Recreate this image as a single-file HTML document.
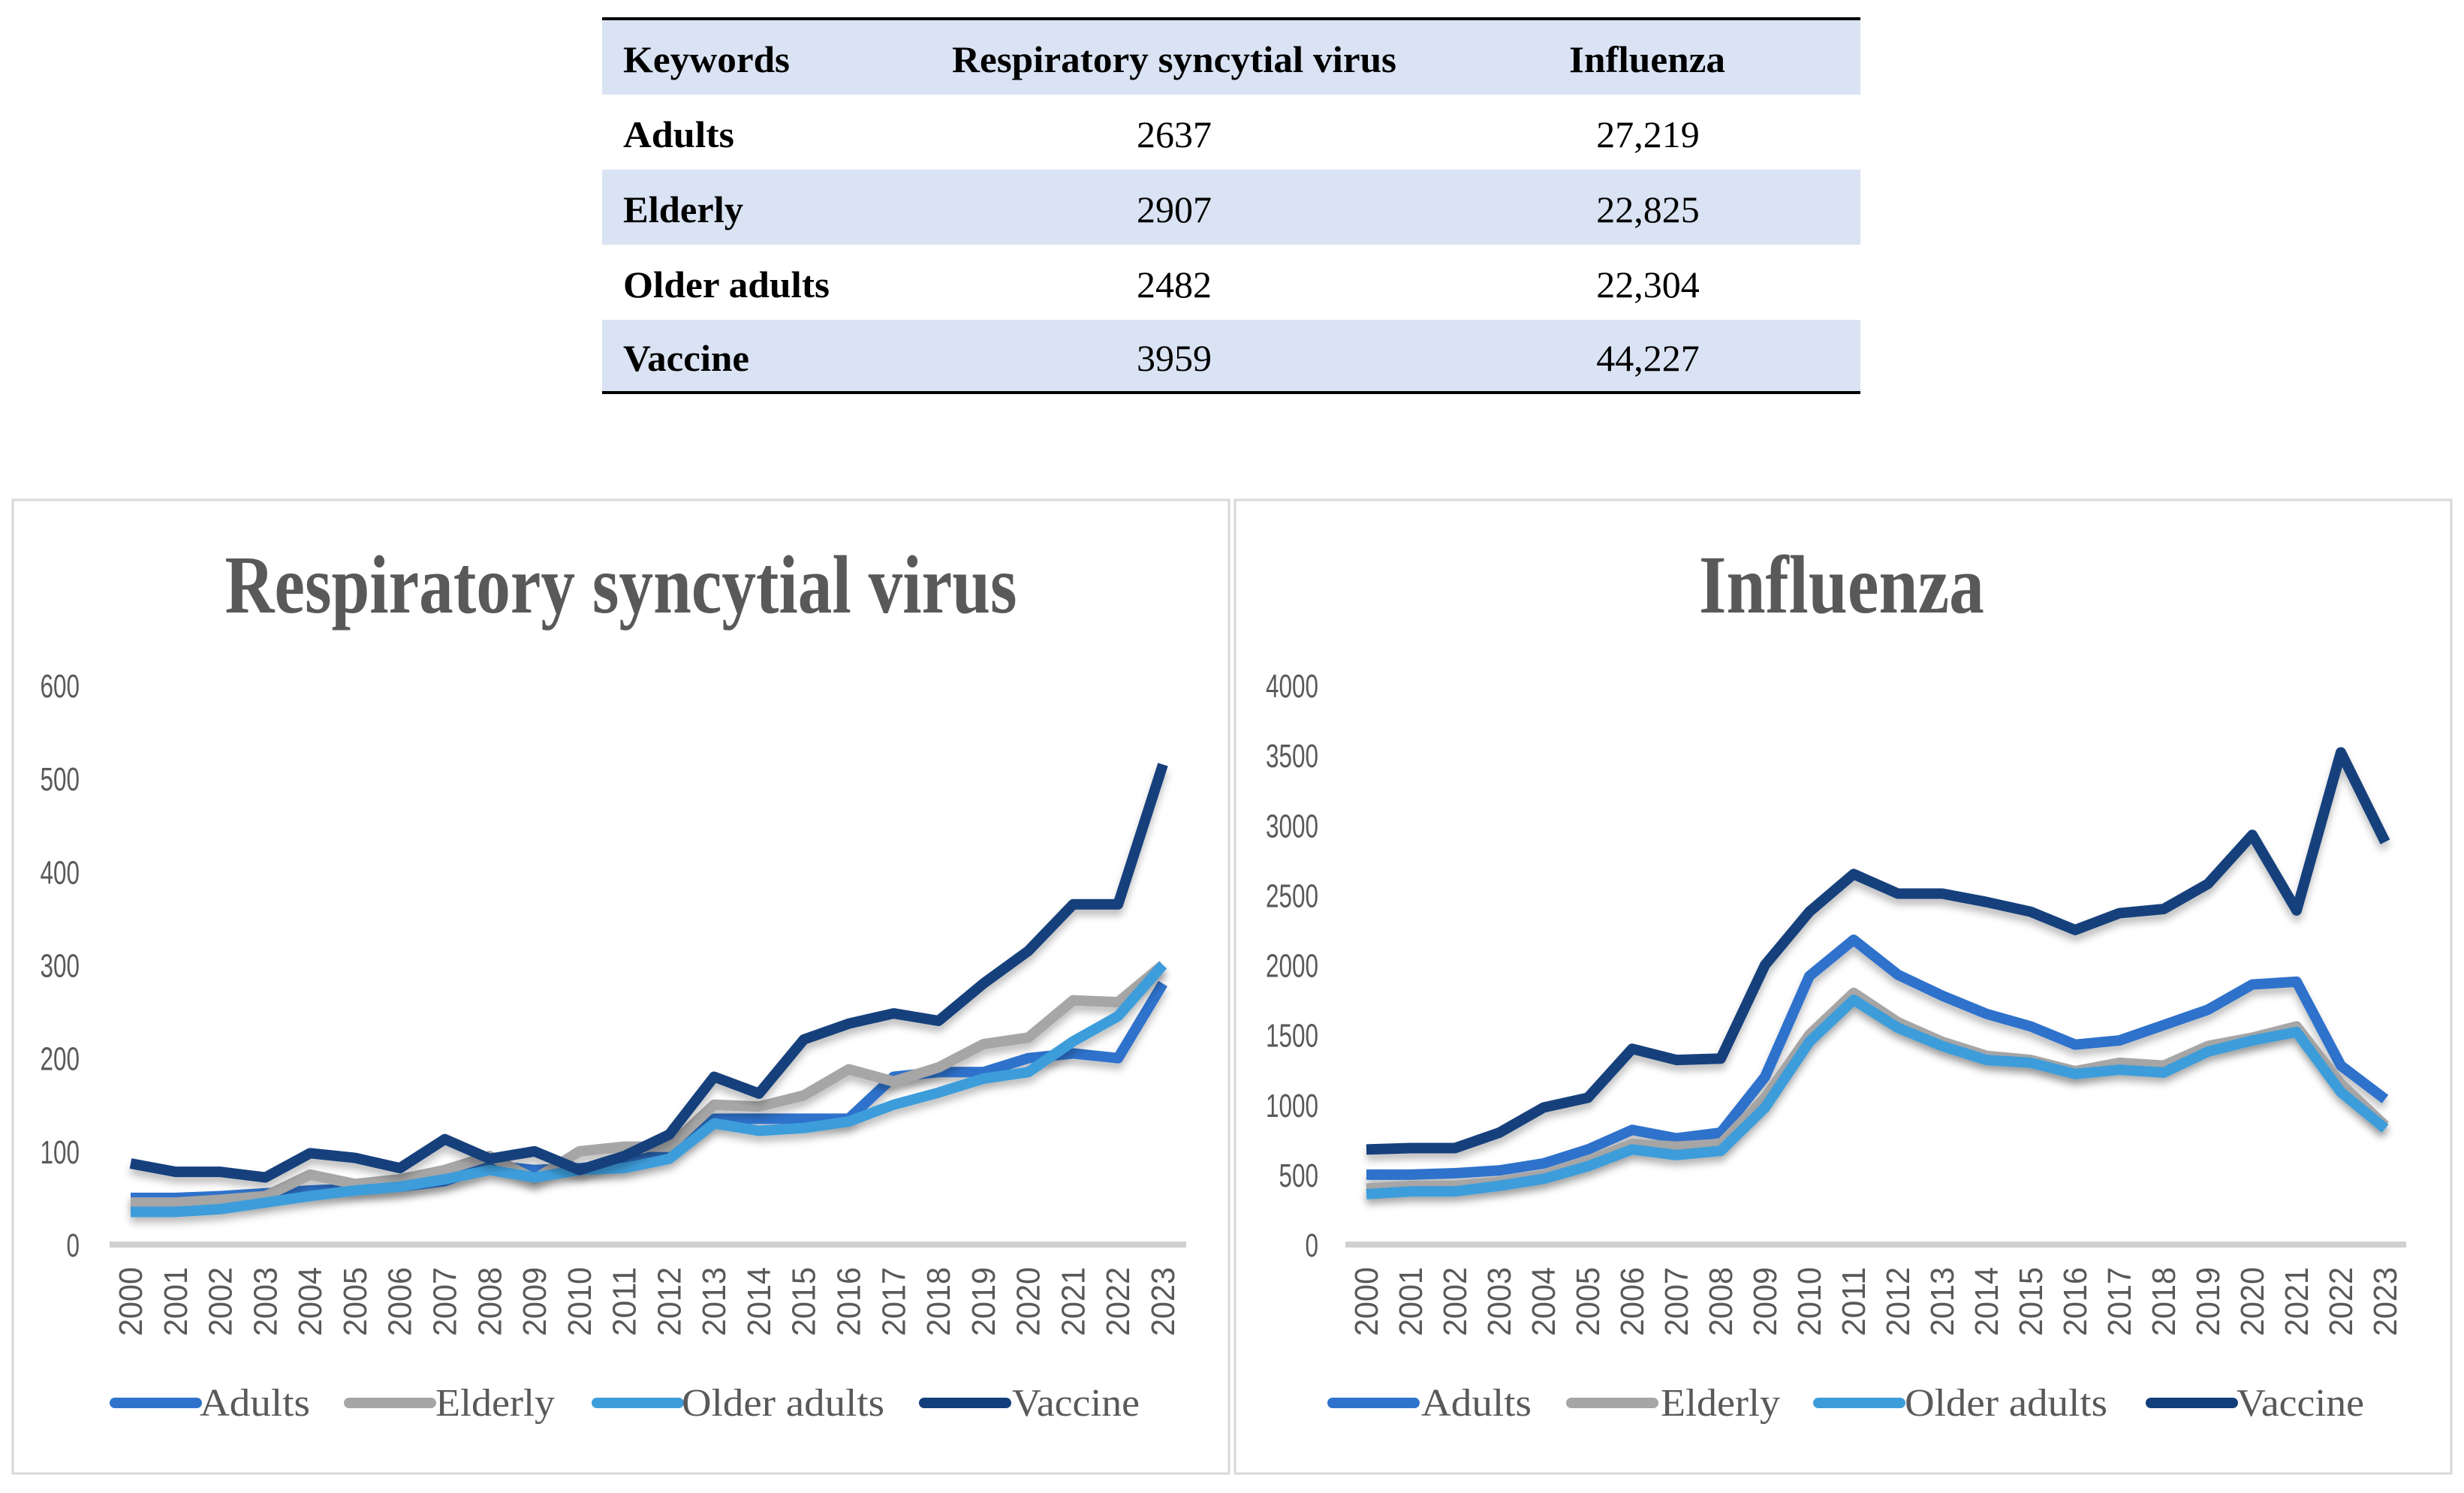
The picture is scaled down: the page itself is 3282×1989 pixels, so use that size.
<!DOCTYPE html>
<html><head><meta charset="utf-8"><style>
html,body{margin:0;padding:0;background:#fff;}
svg{display:block;}
.tick{font-family:"Liberation Sans Narrow","Liberation Sans",sans-serif;font-size:44px;fill:#595959;}
.ttl{font-family:"Liberation Serif",serif;font-weight:bold;fill:#595959;}
.leg{font-family:"Liberation Serif",serif;font-size:52px;fill:#595959;}
.tb{font-family:"Liberation Serif",serif;font-size:50px;fill:#000;}
</style></head><body>
<svg id="svg" width="3282" height="1989" viewBox="0 0 3282 1989" xmlns="http://www.w3.org/2000/svg">
<defs><filter id="sh" x="-5%" y="-5%" width="110%" height="120%"><feDropShadow dx="0" dy="8" stdDeviation="5" flood-color="#000" flood-opacity="0.25"/></filter></defs>
<g>
<rect x="802" y="26" width="1676" height="100" fill="#dae3f3"/>
<rect x="802" y="226" width="1676" height="100" fill="#dae3f3"/>
<rect x="802" y="426" width="1676" height="97" fill="#dae3f3"/>
<line x1="802" y1="25" x2="2478" y2="25" stroke="#000" stroke-width="4"/>
<line x1="802" y1="523" x2="2478" y2="523" stroke="#000" stroke-width="4"/>
<g class="tb" font-weight="bold">
<text x="830" y="96" textLength="222" lengthAdjust="spacingAndGlyphs">Keywords</text>
<text x="1268" y="96" textLength="592" lengthAdjust="spacingAndGlyphs">Respiratory syncytial virus</text>
<text x="2090" y="96" textLength="208" lengthAdjust="spacingAndGlyphs">Influenza</text>
</g>
<g class="tb">
<text x="830" y="196" font-weight="bold" textLength="148" lengthAdjust="spacingAndGlyphs">Adults</text>
<text x="1564" y="196" text-anchor="middle">2637</text>
<text x="2195" y="196" text-anchor="middle">27,219</text>
<text x="830" y="296" font-weight="bold" textLength="160" lengthAdjust="spacingAndGlyphs">Elderly</text>
<text x="1564" y="296" text-anchor="middle">2907</text>
<text x="2195" y="296" text-anchor="middle">22,825</text>
<text x="830" y="396" font-weight="bold" textLength="275" lengthAdjust="spacingAndGlyphs">Older adults</text>
<text x="1564" y="396" text-anchor="middle">2482</text>
<text x="2195" y="396" text-anchor="middle">22,304</text>
<text x="830" y="494" font-weight="bold" textLength="168" lengthAdjust="spacingAndGlyphs">Vaccine</text>
<text x="1564" y="494" text-anchor="middle">3959</text>
<text x="2195" y="494" text-anchor="middle">44,227</text>
</g>
</g>
</svg>
<script>
const years=[2000,2001,2002,2003,2004,2005,2006,2007,2008,2009,2010,2011,2012,2013,2014,2015,2016,2017,2018,2019,2020,2021,2022,2023];
const seriesNames=["Adults","Elderly","Older adults","Vaccine"];
const seriesColors=["#2e72cc","#a6a6a6","#3d9ddb","#123f7c"];
const rsvAdults=[50,50,52,55,58,60,62,68,85,80,82,86,100,135,135,135,135,180,185,185,200,205,200,280];
const rsvElderly=[45,45,48,52,75,65,70,80,95,70,100,105,105,150,148,160,188,175,190,215,222,262,260,300];
const rsvOlder=[35,35,38,45,52,58,62,70,80,72,80,82,92,130,122,125,132,150,163,178,185,218,245,300];
const rsvVaccine=[87,78,78,72,98,93,82,113,92,100,80,95,118,180,162,220,237,248,240,280,315,365,365,515];
const rsvTicks=[0,100,200,300,400,500,600];
const fluAdults=[500,500,510,530,580,680,820,760,800,1200,1920,2180,1930,1780,1650,1560,1430,1460,1570,1680,1860,1880,1280,1040];
const fluElderly=[400,420,420,450,500,600,720,700,720,1050,1500,1800,1590,1450,1350,1320,1240,1300,1280,1420,1480,1560,1150,850];
const fluOlder=[360,380,380,420,470,560,680,640,670,980,1450,1750,1550,1420,1320,1300,1220,1250,1230,1380,1460,1520,1090,830];
const fluVaccine=[680,690,690,800,980,1050,1400,1320,1330,2000,2380,2650,2510,2510,2450,2380,2250,2370,2400,2580,2930,2390,3520,2880];
const fluTicks=[0,500,1000,1500,2000,2500,3000,3500,4000];

const NS="http://www.w3.org/2000/svg";
const svg=document.getElementById('svg');
function mk(tag,attrs,parent){const e=document.createElementNS(NS,tag);for(const k in attrs)e.setAttribute(k,attrs[k]);(parent||svg).appendChild(e);return e;}

function chart(cfg){
  const g=mk('g',{});
  
  
  const frame=mk('rect',{x:cfg.bx,y:666,width:1620,height:1297,fill:'#fff',stroke:'#d9d9d9','stroke-width':3},g);
  
  
  const t=mk('text',{x:cfg.tx,y:816,'text-anchor':'middle','class':'ttl','font-size':110,textLength:cfg.tw,lengthAdjust:'spacingAndGlyphs'},g);
  t.textContent=cfg.title;
  
  
  const y0=1658,yT=913;
  const ys=v=>y0-(v/cfg.max)*(y0-yT);
  const xs=i=>cfg.x0+i*(cfg.x1-cfg.x0)/(years.length-1);
  cfg.ticks.forEach(v=>{
    const s=String(v);
    const tt=mk('text',{x:cfg.labR,y:ys(v)+16,'text-anchor':'end','class':'tick',textLength:s.length*17.5,lengthAdjust:'spacingAndGlyphs'},g);
    tt.textContent=s;
    
    
  });
  const ax=mk('line',{x1:cfg.ax0,x2:cfg.ax1,y1:y0,y2:y0,stroke:'#d0d0d0','stroke-width':8},g);
  
  
  years.forEach((yr,i)=>{
    const tt=mk('text',{x:0,y:0,'text-anchor':'end','class':'tick',textLength:92,lengthAdjust:'spacingAndGlyphs',transform:`translate(${xs(i)+15},1688) rotate(-90)`},g);
    tt.textContent=yr;
    
    
  });
  cfg.data.forEach((arr,s)=>{
    const p=mk('polyline',{points:arr.map((v,i)=>xs(i)+','+ys(v)).join(' '),fill:'none',stroke:seriesColors[s],'stroke-width':14,'stroke-linejoin':'round',filter:'url(#sh)'},g);
    
    
  });
  cfg.leg.forEach((L,s)=>{
    const lg=mk('g',{},g);
    
    
    mk('line',{x1:L[0],x2:L[0]+109,y1:1869,y2:1869,stroke:seriesColors[s],'stroke-width':14,'stroke-linecap':'round'},lg);
    const lt=mk('text',{x:L[1],y:1886,'class':'leg',textLength:L[2],lengthAdjust:'spacingAndGlyphs'},lg);
    lt.textContent=seriesNames[s];
  });
}
chart({name:'rsv-chart',bx:17,tx:827,tw:1055,title:'Respiratory syncytial virus',max:600,ticks:rsvTicks,x0:174,x1:1549,labR:106,ax0:146,ax1:1580,
  data:[rsvAdults,rsvElderly,rsvOlder,rsvVaccine],
  leg:[[153,266,147],[465,580,159],[795,908,270],[1231,1348,170]]});
chart({name:'influenza-chart',bx:1645,tx:2453,tw:380,title:'Influenza',max:4000,ticks:fluTicks,x0:1820,x1:3177,labR:1756,ax0:1792,ax1:3205,
  data:[fluAdults,fluElderly,fluOlder,fluVaccine],
  leg:[[1775,1893,147],[2093,2212,159],[2422,2537,270],[2865,2979,170]]});
</script>
</body></html>
